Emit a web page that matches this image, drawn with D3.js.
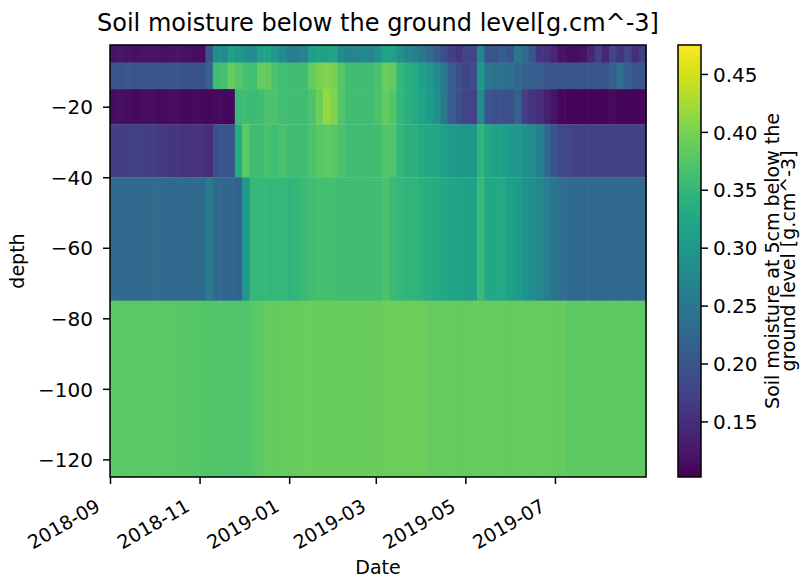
<!DOCTYPE html>
<html>
<head>
<meta charset="utf-8">
<script src="https://cdn.jsdelivr.net/npm/d3@7"></script>
<style>
  html, body { margin: 0; padding: 0; background: #fff; }
  svg { display: block; font-family: "DejaVu Sans", sans-serif; }
</style>
</head>
<body>
<script>
// Sensor depths (cm), shallowest first
const depths = [-5, -10, -20, -30, -50, -100];

// Five-day mean soil moisture per depth, starting 2018-09-01
const startDate = "2018-09-01";
const stepDays = 5;

const moisture5cm = [
  0.12, 0.125, 0.12, 0.118, 0.12, 0.122, 0.12, 0.118, 0.12, 0.12, 0.118, 0.115, 0.115,
  0.2,
  0.28, 0.28, 0.31, 0.3, 0.29, 0.28, 0.315, 0.32, 0.3, 0.28,
  0.26, 0.26, 0.27, 0.31, 0.32, 0.315, 0.32, 0.28, 0.27, 0.27, 0.28, 0.27, 0.29, 0.32, 0.315,
  0.29, 0.27, 0.26, 0.25, 0.23, 0.21, 0.19, 0.17, 0.16, 0.18, 0.18,
  0.27, 0.2, 0.2, 0.21, 0.2, 0.25, 0.23, 0.2, 0.16, 0.155, 0.14, 0.12, 0.115, 0.115,
  0.12, 0.14, 0.17, 0.14, 0.18, 0.16, 0.18, 0.15, 0.17
];
const moisture10cm = [
  0.2, 0.2, 0.205, 0.2, 0.2, 0.2, 0.2, 0.198, 0.2, 0.2, 0.198, 0.195, 0.195,
  0.22,
  0.36, 0.365, 0.385, 0.375, 0.365, 0.36, 0.385, 0.385, 0.37, 0.36,
  0.36, 0.36, 0.36, 0.385, 0.4, 0.405, 0.4, 0.375, 0.36, 0.36, 0.36, 0.36, 0.37, 0.39, 0.385,
  0.35, 0.34, 0.33, 0.315, 0.3, 0.28, 0.25, 0.21, 0.19, 0.18, 0.19,
  0.3, 0.25, 0.245, 0.24, 0.24, 0.225, 0.215, 0.215, 0.21, 0.2, 0.2, 0.2, 0.2, 0.2,
  0.2, 0.2, 0.2, 0.2, 0.22, 0.235, 0.215, 0.2, 0.2
];
const moisture20cm = [
  0.115, 0.118, 0.115, 0.112, 0.115, 0.115, 0.112, 0.112, 0.115, 0.112, 0.11, 0.112, 0.11,
  0.108, 0.112, 0.11, 0.11,
  0.355, 0.36, 0.355, 0.36, 0.37, 0.37, 0.36,
  0.36, 0.36, 0.36, 0.37, 0.39, 0.415, 0.405, 0.375, 0.36, 0.36, 0.36, 0.36, 0.37, 0.385, 0.375,
  0.35, 0.34, 0.33, 0.32, 0.305, 0.29, 0.25, 0.21, 0.19, 0.18, 0.175,
  0.28, 0.2, 0.195, 0.195, 0.19, 0.22, 0.17, 0.16, 0.15, 0.135, 0.12, 0.11, 0.105, 0.105,
  0.105, 0.105, 0.105, 0.106, 0.112, 0.106, 0.105, 0.106, 0.108
];
const moisture30cm = [
  0.17, 0.17, 0.17, 0.172, 0.17, 0.17, 0.165, 0.165, 0.16, 0.16, 0.16, 0.158, 0.155,
  0.15, 0.195, 0.2, 0.2,
  0.33, 0.38, 0.36, 0.36, 0.365, 0.36, 0.37,
  0.36, 0.36, 0.36, 0.37, 0.378, 0.382, 0.378, 0.37, 0.36, 0.36, 0.36, 0.36, 0.36, 0.372, 0.372,
  0.35, 0.34, 0.34, 0.33, 0.325, 0.325, 0.315, 0.305, 0.3, 0.3, 0.3,
  0.345, 0.325, 0.315, 0.315, 0.305, 0.3, 0.29, 0.28, 0.26, 0.23, 0.2, 0.185, 0.18, 0.175,
  0.175, 0.175, 0.175, 0.175, 0.175, 0.175, 0.175, 0.175, 0.175
];
const moisture50cm = [
  0.23, 0.232, 0.23, 0.23, 0.23, 0.23, 0.232, 0.23, 0.23, 0.23, 0.23, 0.23, 0.23,
  0.255, 0.23, 0.225, 0.225, 0.22, 0.3,
  0.35, 0.35, 0.35, 0.35, 0.35,
  0.345, 0.35, 0.355, 0.36, 0.363, 0.363, 0.363, 0.36, 0.36, 0.36, 0.36, 0.36, 0.36, 0.37, 0.355,
  0.35, 0.345, 0.345, 0.34, 0.335, 0.33, 0.325, 0.32, 0.318, 0.315, 0.315,
  0.355, 0.325, 0.325, 0.325, 0.315, 0.305, 0.295, 0.285, 0.275, 0.26, 0.245, 0.235, 0.23, 0.228,
  0.226, 0.226, 0.226, 0.226, 0.226, 0.226, 0.226, 0.226, 0.226
];
const moisture100cm = [
  0.381, 0.38, 0.38, 0.379, 0.38, 0.381, 0.38, 0.38, 0.379, 0.378, 0.378, 0.377, 0.375, 0.374,
  0.372, 0.372, 0.372, 0.372, 0.372,
  0.376,
  0.383, 0.385, 0.385, 0.386, 0.387, 0.388,
  0.39, 0.39, 0.39, 0.39, 0.39, 0.39, 0.39, 0.39, 0.39, 0.39, 0.39,
  0.391, 0.391, 0.391, 0.391, 0.391, 0.391,
  0.387, 0.387, 0.387, 0.387, 0.387, 0.387, 0.387, 0.387, 0.387, 0.387,
  0.387, 0.387, 0.387, 0.387, 0.387, 0.387, 0.387, 0.387, 0.387,
  0.383, 0.383, 0.383, 0.383, 0.383, 0.383, 0.383, 0.383, 0.383, 0.383, 0.383
];

const layerSeries = [moisture5cm, moisture10cm, moisture20cm, moisture30cm, moisture50cm, moisture100cm];

// Axis ticks and colour range
const dateTicks = ["2018-09", "2018-11", "2019-01", "2019-03", "2019-05", "2019-07"];
const depthTicks = [-120, -100, -80, -60, -40, -20];
const colorTicks = [0.15, 0.20, 0.25, 0.30, 0.35, 0.40, 0.45];
const colorRange = [0.102, 0.475];

const W = 808, H = 578;
const plot = { left: 110, right: 646, top: 45, bottom: 477 };
const cbar = { left: 678, right: 701 };
const fontTick = 20;
const fontDate = 19;
const fontLabel = 19;

const svg = d3.select("body").append("svg")
  .attr("width", W).attr("height", H);
svg.append("rect").attr("width", W).attr("height", H).attr("fill", "#fff");

const parseDay = d3.utcParse("%Y-%m-%d");
const parseMonth = d3.utcParse("%Y-%m");
const t0 = parseDay(startDate);
const nBins = layerSeries[0].length;
const binStarts = d3.range(nBins + 1).map(i => d3.utcDay.offset(t0, i * stepDays));

// Cell edges halfway between sensor depths, outer edges mirrored
const edges = [];
edges.push(depths[0] + (depths[0] - depths[1]) / 2);
for (let k = 0; k < depths.length - 1; k++) edges.push((depths[k] + depths[k + 1]) / 2);
const nd = depths.length;
edges.push(depths[nd - 1] + (depths[nd - 1] - depths[nd - 2]) / 2);

const x = d3.scaleUtc()
  .domain([binStarts[0], binStarts[nBins]])
  .range([plot.left, plot.right]);
const y = d3.scaleLinear()
  .domain([edges[edges.length - 1], edges[0]])
  .range([plot.bottom, plot.top]);
const color = d3.scaleSequential(d3.interpolateViridis).domain(colorRange);

// Heat-map cells
const cells = [];
layerSeries.forEach((vals, j) => {
  vals.forEach((v, i) => cells.push({ j, i, v }));
});
svg.append("g")
  .selectAll("rect")
  .data(cells)
  .join("rect")
  .attr("x", d => x(binStarts[d.i]))
  .attr("width", d => x(binStarts[d.i + 1]) - x(binStarts[d.i]) + 0.6)
  .attr("y", d => y(edges[d.j]))
  .attr("height", d => y(edges[d.j + 1]) - y(edges[d.j]) + 0.3)
  .attr("fill", d => color(d.v));

// Frame
svg.append("rect")
  .attr("x", plot.left).attr("y", plot.top)
  .attr("width", plot.right - plot.left).attr("height", plot.bottom - plot.top)
  .attr("fill", "none").attr("stroke", "#000").attr("stroke-width", 1.5);

// Y axis
const yAxis = svg.append("g")
  .attr("transform", `translate(${plot.left},0)`)
  .call(d3.axisLeft(y).tickValues(depthTicks).tickSize(7).tickPadding(10));
yAxis.select(".domain").remove();
yAxis.selectAll(".tick line").attr("stroke", "#000").attr("stroke-width", 1.5);
yAxis.selectAll(".tick text")
  .attr("font-size", fontTick).attr("font-family", "DejaVu Sans").attr("fill", "#000")
  .attr("dy", "0.36em");

// X axis with slanted month labels
const xAxis = svg.append("g")
  .attr("transform", `translate(0,${plot.bottom})`)
  .call(d3.axisBottom(x)
    .tickValues(dateTicks.map(parseMonth))
    .tickFormat(d3.utcFormat("%Y-%m"))
    .tickSize(7));
xAxis.select(".domain").remove();
xAxis.selectAll(".tick line").attr("stroke", "#000").attr("stroke-width", 1.5);
xAxis.selectAll(".tick text")
  .attr("font-size", fontDate).attr("font-family", "DejaVu Sans").attr("fill", "#000")
  .attr("x", 0).attr("y", 0).attr("dy", 0)
  .attr("text-anchor", "end")
  .attr("transform", "translate(-9,33) rotate(-30)");

// Colour bar
const cScale = d3.scaleLinear().domain(colorRange).range([plot.bottom, plot.top]);
const defs = svg.append("defs");
const grad = defs.append("linearGradient")
  .attr("id", "viridis-bar")
  .attr("x1", 0).attr("y1", 1).attr("x2", 0).attr("y2", 0);
d3.range(0, 1.0001, 0.02).forEach(t => {
  grad.append("stop").attr("offset", t).attr("stop-color", d3.interpolateViridis(t));
});
svg.append("rect")
  .attr("x", cbar.left).attr("y", plot.top)
  .attr("width", cbar.right - cbar.left).attr("height", plot.bottom - plot.top)
  .attr("fill", "url(#viridis-bar)")
  .attr("stroke", "#000").attr("stroke-width", 1.5);

const cAxis = svg.append("g")
  .attr("transform", `translate(${cbar.right},0)`)
  .call(d3.axisRight(cScale).tickValues(colorTicks).tickFormat(d3.format(".2f")).tickSize(7).tickPadding(5));
cAxis.select(".domain").remove();
cAxis.selectAll(".tick line").attr("stroke", "#000").attr("stroke-width", 1.5);
cAxis.selectAll(".tick text")
  .attr("font-size", fontTick).attr("font-family", "DejaVu Sans").attr("fill", "#000")
  .attr("dy", "0.36em");

// Titles and labels
svg.append("text")
  .attr("x", (plot.left + plot.right) / 2).attr("y", 31)
  .attr("text-anchor", "middle").attr("font-size", 24)
  .text("Soil moisture below the ground level[g.cm^-3]");

svg.append("text")
  .attr("x", (plot.left + plot.right) / 2).attr("y", 574)
  .attr("text-anchor", "middle").attr("font-size", fontLabel)
  .text("Date");

svg.append("text")
  .attr("transform", `translate(24,${(plot.top + plot.bottom) / 2}) rotate(-90)`)
  .attr("text-anchor", "middle").attr("font-size", fontLabel)
  .text("depth");

const cbLabel = ["Soil moisture at 5cm below the", "ground level [g.cm^-3]"];
cbLabel.forEach((line, k) => {
  svg.append("text")
    .attr("transform", `translate(${779 + k * 16},${(plot.top + plot.bottom) / 2}) rotate(-90)`)
    .attr("text-anchor", "middle").attr("font-size", fontLabel)
    .text(line);
});
</script>
</body>
</html>
